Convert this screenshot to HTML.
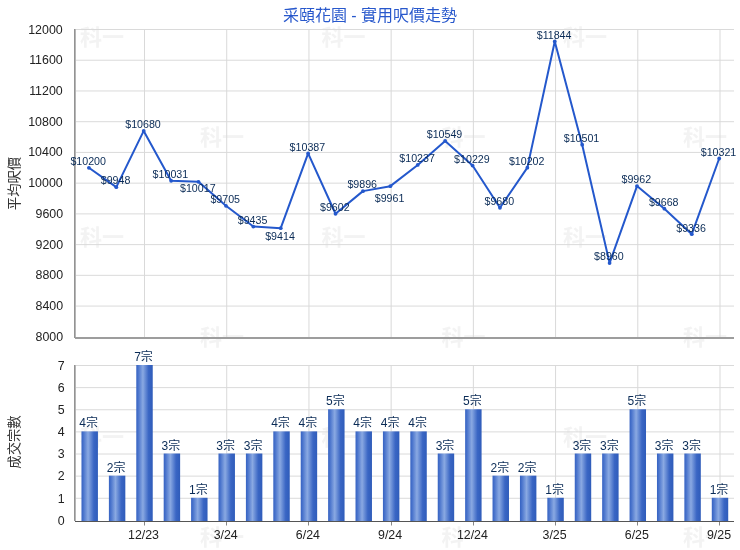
<!DOCTYPE html><html><head><meta charset="utf-8"><title>采頤花園 - 實用呎價走勢</title>
<style>html,body{margin:0;padding:0;background:#fff}svg{display:block}text{font-family:"Liberation Sans","Noto Sans CJK TC",sans-serif}</style></head><body>
<svg width="740" height="550" viewBox="0 0 740 550">
<defs><linearGradient id="bg" x1="0" y1="0" x2="1" y2="0"><stop offset="0" stop-color="#3562c2"/><stop offset="0.12" stop-color="#4a74cc"/><stop offset="0.4" stop-color="#8aa9e2"/><stop offset="0.75" stop-color="#3a66c4"/><stop offset="1" stop-color="#2f5cba"/></linearGradient></defs>
<rect width="740" height="550" fill="#fff"/>
<g font-size="22" font-weight="bold" fill="#f3f3f3" font-family="'Liberation Serif','Noto Serif CJK SC',serif">
<text x="80" y="44.9">科一</text>
<text x="321.5" y="44.9">科一</text>
<text x="563" y="44.9">科一</text>
<text x="200" y="145.0">科一</text>
<text x="441.5" y="145.0">科一</text>
<text x="683" y="145.0">科一</text>
<text x="80" y="245.1">科一</text>
<text x="321.5" y="245.1">科一</text>
<text x="563" y="245.1">科一</text>
<text x="200" y="345.2">科一</text>
<text x="441.5" y="345.2">科一</text>
<text x="683" y="345.2">科一</text>
<text x="80" y="445.3">科一</text>
<text x="321.5" y="445.3">科一</text>
<text x="563" y="445.3">科一</text>
<text x="200" y="545.4">科一</text>
<text x="441.5" y="545.4">科一</text>
<text x="683" y="545.4">科一</text>
</g>
<g stroke="#dadada" stroke-width="1">
<line x1="76" x2="734" y1="29.50" y2="29.50"/>
<line x1="76" x2="734" y1="60.23" y2="60.23"/>
<line x1="76" x2="734" y1="90.96" y2="90.96"/>
<line x1="76" x2="734" y1="121.69" y2="121.69"/>
<line x1="76" x2="734" y1="152.42" y2="152.42"/>
<line x1="76" x2="734" y1="183.15" y2="183.15"/>
<line x1="76" x2="734" y1="213.88" y2="213.88"/>
<line x1="76" x2="734" y1="244.61" y2="244.61"/>
<line x1="76" x2="734" y1="275.34" y2="275.34"/>
<line x1="76" x2="734" y1="306.07" y2="306.07"/>
<line x1="76" x2="734" y1="365.50" y2="365.50"/>
<line x1="76" x2="734" y1="387.63" y2="387.63"/>
<line x1="76" x2="734" y1="409.76" y2="409.76"/>
<line x1="76" x2="734" y1="431.89" y2="431.89"/>
<line x1="76" x2="734" y1="454.01" y2="454.01"/>
<line x1="76" x2="734" y1="476.14" y2="476.14"/>
<line x1="76" x2="734" y1="498.27" y2="498.27"/>
</g>
<g stroke="#d9d9d9" stroke-width="1">
<line x1="144.51" x2="144.51" y1="29" y2="337"/>
<line x1="144.51" x2="144.51" y1="365" y2="520"/>
<line x1="226.72" x2="226.72" y1="29" y2="337"/>
<line x1="226.72" x2="226.72" y1="365" y2="520"/>
<line x1="308.94" x2="308.94" y1="29" y2="337"/>
<line x1="308.94" x2="308.94" y1="365" y2="520"/>
<line x1="391.15" x2="391.15" y1="29" y2="337"/>
<line x1="391.15" x2="391.15" y1="365" y2="520"/>
<line x1="473.36" x2="473.36" y1="29" y2="337"/>
<line x1="473.36" x2="473.36" y1="365" y2="520"/>
<line x1="555.57" x2="555.57" y1="29" y2="337"/>
<line x1="555.57" x2="555.57" y1="365" y2="520"/>
<line x1="637.79" x2="637.79" y1="29" y2="337"/>
<line x1="637.79" x2="637.79" y1="365" y2="520"/>
<line x1="720.00" x2="720.00" y1="29" y2="337"/>
<line x1="720.00" x2="720.00" y1="365" y2="520"/>
</g>
<rect x="74" y="29" width="1" height="309" fill="#939393"/>
<rect x="75" y="29" width="1" height="308" fill="#b6b6b6"/>
<rect x="75" y="337" width="659" height="2" fill="#9d9d9d"/>
<rect x="74" y="365" width="1" height="156" fill="#939393"/>
<rect x="75" y="365" width="1" height="156" fill="#b6b6b6"/>
<rect x="81.48" y="431.39" width="16.44" height="89.61" fill="url(#bg)"/>
<rect x="108.89" y="475.64" width="16.44" height="45.36" fill="url(#bg)"/>
<rect x="136.29" y="365.00" width="16.44" height="156.00" fill="url(#bg)"/>
<rect x="163.69" y="453.51" width="16.44" height="67.49" fill="url(#bg)"/>
<rect x="191.10" y="497.77" width="16.44" height="23.23" fill="url(#bg)"/>
<rect x="218.50" y="453.51" width="16.44" height="67.49" fill="url(#bg)"/>
<rect x="245.91" y="453.51" width="16.44" height="67.49" fill="url(#bg)"/>
<rect x="273.31" y="431.39" width="16.44" height="89.61" fill="url(#bg)"/>
<rect x="300.72" y="431.39" width="16.44" height="89.61" fill="url(#bg)"/>
<rect x="328.12" y="409.26" width="16.44" height="111.74" fill="url(#bg)"/>
<rect x="355.52" y="431.39" width="16.44" height="89.61" fill="url(#bg)"/>
<rect x="382.93" y="431.39" width="16.44" height="89.61" fill="url(#bg)"/>
<rect x="410.33" y="431.39" width="16.44" height="89.61" fill="url(#bg)"/>
<rect x="437.74" y="453.51" width="16.44" height="67.49" fill="url(#bg)"/>
<rect x="465.14" y="409.26" width="16.44" height="111.74" fill="url(#bg)"/>
<rect x="492.54" y="475.64" width="16.44" height="45.36" fill="url(#bg)"/>
<rect x="519.95" y="475.64" width="16.44" height="45.36" fill="url(#bg)"/>
<rect x="547.35" y="497.77" width="16.44" height="23.23" fill="url(#bg)"/>
<rect x="574.76" y="453.51" width="16.44" height="67.49" fill="url(#bg)"/>
<rect x="602.16" y="453.51" width="16.44" height="67.49" fill="url(#bg)"/>
<rect x="629.57" y="409.26" width="16.44" height="111.74" fill="url(#bg)"/>
<rect x="656.97" y="453.51" width="16.44" height="67.49" fill="url(#bg)"/>
<rect x="684.37" y="453.51" width="16.44" height="67.49" fill="url(#bg)"/>
<rect x="711.78" y="497.77" width="16.44" height="23.23" fill="url(#bg)"/>
<rect x="75" y="521" width="659" height="1" fill="#555"/>
<g fill="#888">
<rect x="144" y="522" width="1" height="3.5"/>
<rect x="226" y="522" width="1" height="3.5"/>
<rect x="308" y="522" width="1" height="3.5"/>
<rect x="391" y="522" width="1" height="3.5"/>
<rect x="473" y="522" width="1" height="3.5"/>
<rect x="555" y="522" width="1" height="3.5"/>
<rect x="637" y="522" width="1" height="3.5"/>
<rect x="719" y="522" width="1" height="3.5"/>
</g>
<polyline points="88.90,167.78 116.31,187.14 143.71,130.91 171.11,180.77 198.52,181.84 225.92,205.81 253.33,226.56 280.73,228.17 308.14,153.42 335.54,213.73 362.94,191.14 390.35,186.15 417.75,164.94 445.16,140.97 472.56,165.56 499.96,207.73 527.37,167.63 554.77,41.48 582.18,144.66 609.58,263.05 636.99,186.07 664.39,208.66 691.79,234.16 719.20,158.49" fill="none" stroke="#2458cc" stroke-width="2.0" stroke-linejoin="round" stroke-linecap="round"/>
<g fill="#2458cc">
<circle cx="88.90" cy="167.78" r="1.9"/>
<circle cx="116.31" cy="187.14" r="1.9"/>
<circle cx="143.71" cy="130.91" r="1.9"/>
<circle cx="171.11" cy="180.77" r="1.9"/>
<circle cx="198.52" cy="181.84" r="1.9"/>
<circle cx="225.92" cy="205.81" r="1.9"/>
<circle cx="253.33" cy="226.56" r="1.9"/>
<circle cx="280.73" cy="228.17" r="1.9"/>
<circle cx="308.14" cy="153.42" r="1.9"/>
<circle cx="335.54" cy="213.73" r="1.9"/>
<circle cx="362.94" cy="191.14" r="1.9"/>
<circle cx="390.35" cy="186.15" r="1.9"/>
<circle cx="417.75" cy="164.94" r="1.9"/>
<circle cx="445.16" cy="140.97" r="1.9"/>
<circle cx="472.56" cy="165.56" r="1.9"/>
<circle cx="499.96" cy="207.73" r="1.9"/>
<circle cx="527.37" cy="167.63" r="1.9"/>
<circle cx="554.77" cy="41.48" r="1.9"/>
<circle cx="582.18" cy="144.66" r="1.9"/>
<circle cx="609.58" cy="263.05" r="1.9"/>
<circle cx="636.99" cy="186.07" r="1.9"/>
<circle cx="664.39" cy="208.66" r="1.9"/>
<circle cx="691.79" cy="234.16" r="1.9"/>
<circle cx="719.20" cy="158.49" r="1.9"/>
</g>
<g font-size="10.67" fill="#0a2b56" text-anchor="middle">
<text x="88.2" y="165.1">$10200</text>
<text x="115.6" y="184.4">$9948</text>
<text x="143.0" y="128.2">$10680</text>
<text x="170.4" y="178.1">$10031</text>
<text x="197.8" y="192.3">$10017</text>
<text x="225.2" y="203.1">$9705</text>
<text x="252.6" y="223.9">$9435</text>
<text x="280.0" y="240.2">$9414</text>
<text x="307.4" y="150.7">$10387</text>
<text x="334.8" y="211.0">$9602</text>
<text x="362.2" y="188.4">$9896</text>
<text x="389.6" y="202.1">$9961</text>
<text x="417.1" y="162.2">$10237</text>
<text x="444.5" y="138.3">$10549</text>
<text x="471.9" y="162.9">$10229</text>
<text x="499.3" y="205.0">$9680</text>
<text x="526.7" y="164.9">$10202</text>
<text x="554.1" y="38.8">$11844</text>
<text x="581.5" y="142.0">$10501</text>
<text x="608.9" y="260.3">$8960</text>
<text x="636.3" y="183.4">$9962</text>
<text x="663.7" y="206.0">$9668</text>
<text x="691.1" y="231.5">$9336</text>
<text x="718.5" y="155.8">$10321</text>
</g>
<g font-size="12" fill="#0a2b56" text-anchor="middle">
<text x="88.7" y="427.4">4宗</text>
<text x="116.1" y="471.6">2宗</text>
<text x="143.5" y="361.0">7宗</text>
<text x="170.9" y="449.5">3宗</text>
<text x="198.3" y="493.8">1宗</text>
<text x="225.7" y="449.5">3宗</text>
<text x="253.1" y="449.5">3宗</text>
<text x="280.5" y="427.4">4宗</text>
<text x="307.9" y="427.4">4宗</text>
<text x="335.3" y="405.3">5宗</text>
<text x="362.7" y="427.4">4宗</text>
<text x="390.1" y="427.4">4宗</text>
<text x="417.6" y="427.4">4宗</text>
<text x="445.0" y="449.5">3宗</text>
<text x="472.4" y="405.3">5宗</text>
<text x="499.8" y="471.6">2宗</text>
<text x="527.2" y="471.6">2宗</text>
<text x="554.6" y="493.8">1宗</text>
<text x="582.0" y="449.5">3宗</text>
<text x="609.4" y="449.5">3宗</text>
<text x="636.8" y="405.3">5宗</text>
<text x="664.2" y="449.5">3宗</text>
<text x="691.6" y="449.5">3宗</text>
<text x="719.0" y="493.8">1宗</text>
</g>
<g font-size="12.4" fill="#222" text-anchor="end">
<text x="63.17" y="340.8">8000</text>
<text x="63.17" y="310.1">8400</text>
<text x="63.17" y="279.3">8800</text>
<text x="63.17" y="248.6">9200</text>
<text x="63.17" y="217.9">9600</text>
<text x="62.70" y="187.2">10000</text>
<text x="62.70" y="156.4">10400</text>
<text x="62.70" y="125.7">10800</text>
<text x="62.70" y="95.0">11200</text>
<text x="62.70" y="64.2">11600</text>
<text x="62.70" y="33.5">12000</text>
<text x="64.6" y="524.7">0</text>
<text x="64.6" y="502.6">1</text>
<text x="64.6" y="480.4">2</text>
<text x="64.6" y="458.3">3</text>
<text x="64.6" y="436.2">4</text>
<text x="64.6" y="414.1">5</text>
<text x="64.6" y="391.9">6</text>
<text x="64.6" y="369.8">7</text>
</g>
<g font-size="12.4" fill="#222" text-anchor="middle">
<text x="143.5" y="539">12/23</text>
<text x="225.7" y="539">3/24</text>
<text x="307.9" y="539">6/24</text>
<text x="390.1" y="539">9/24</text>
<text x="472.4" y="539">12/24</text>
<text x="554.6" y="539">3/25</text>
<text x="636.8" y="539">6/25</text>
<text x="719.0" y="539">9/25</text>
</g>
<g font-size="13.33" fill="#333" text-anchor="middle">
<text transform="translate(19,183.5) rotate(-90)">平均呎價</text>
<text transform="translate(19,442) rotate(-90)">成交宗數</text>
</g>
<text x="370" y="21" font-size="16" fill="#2858cc" text-anchor="middle">采頤花園 - 實用呎價走勢</text>
</svg></body></html>
